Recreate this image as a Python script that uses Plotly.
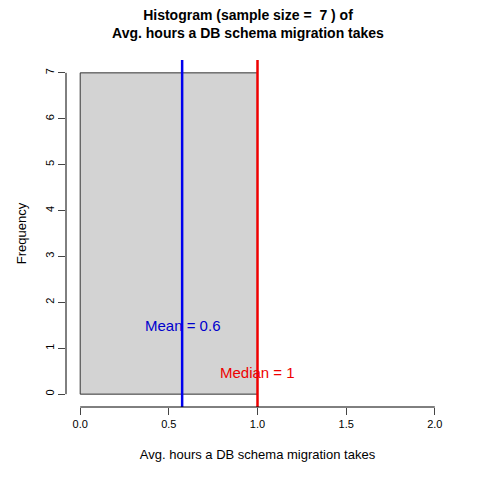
import plotly.graph_objects as go

# histogram bins and counts
bin_left = [0.0]
bin_right = [1.0]
counts = [7]
mean_val = 0.575
median_val = 1.0
x_ticks = [0.0, 0.5, 1.0, 1.5, 2.0]
y_ticks = [0, 1, 2, 3, 4, 5, 6, 7]

font = "Liberation Sans, Arial, sans-serif"

fig = go.Figure()
fig.add_trace(go.Bar(
    x=[(l + r) / 2 for l, r in zip(bin_left, bin_right)],
    y=counts,
    width=[r - l for l, r in zip(bin_left, bin_right)],
    marker=dict(color="#d3d3d3", line=dict(color="#333333", width=1)),
    showlegend=False,
))

fig.add_vline(x=mean_val, line=dict(color="#0000ee", width=2.5))
fig.add_vline(x=median_val, line=dict(color="#ee0000", width=2.5))
fig.add_annotation(x=mean_val, y=1.5, text="Mean = 0.6", showarrow=False,
                   font=dict(color="#0000cd", size=15, family=font))
fig.add_annotation(x=median_val, y=0.47, text="Median = 1", showarrow=False,
                   font=dict(color="#ee0000", size=15, family=font))

# R-style detached axis lines
fig.add_shape(type="line", xref="x", yref="paper", x0=0, x1=2, y0=0, y1=0,
              line=dict(color="black", width=1))
fig.add_shape(type="line", xref="paper", yref="y", x0=0, x1=0, y0=0, y1=7,
              line=dict(color="black", width=1))

fig.update_layout(
    width=480, height=480,
    margin=dict(l=49, r=39, t=52, b=81),
    plot_bgcolor="white", paper_bgcolor="white",
    font=dict(family=font, size=11, color="black"),
    title=dict(text="<b>Histogram (sample size =  7 ) of<br>Avg. hours a DB schema migration takes</b>",
               x=0.5, xanchor="center", y=0.975, yanchor="top", font=dict(size=14)),
    xaxis=dict(range=[-0.08, 2.08], tickvals=x_ticks, ticktext=[f"{v:.1f}" for v in x_ticks],
               ticks="outside", ticklen=7, showgrid=False, zeroline=False, showline=False,
               title=dict(text="Avg. hours a DB schema migration takes", standoff=20)),
    yaxis=dict(range=[-0.28, 7.28], tickvals=y_ticks, tickangle=-90,
               ticks="outside", ticklen=7, showgrid=False, zeroline=False, showline=False,
               title=dict(text="Frequency", standoff=14)),
)

fig.write_html("out.html")
